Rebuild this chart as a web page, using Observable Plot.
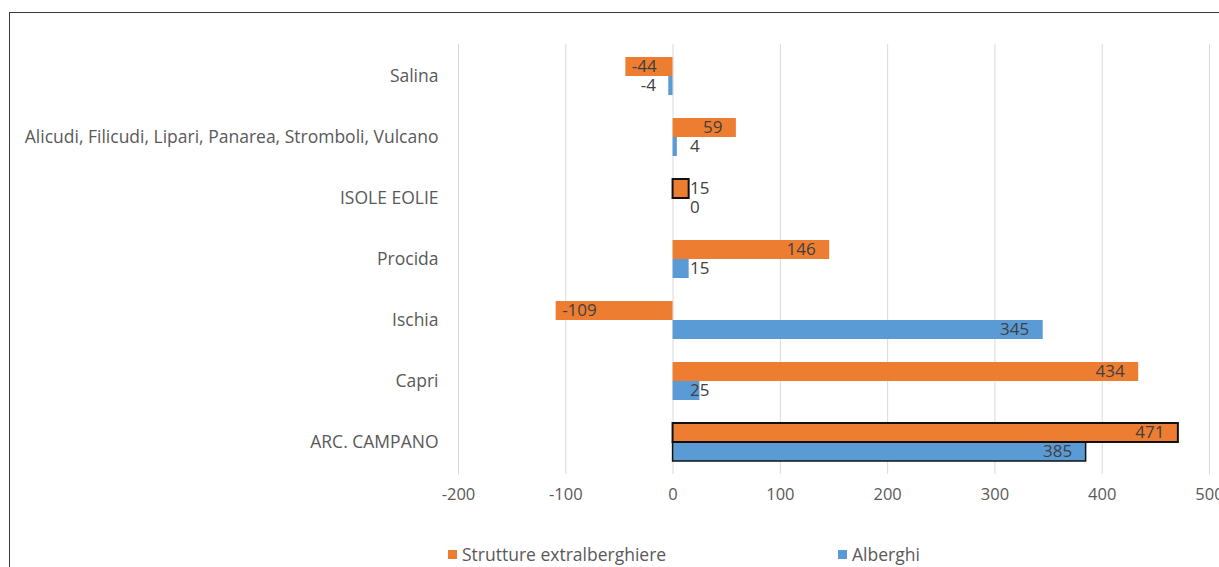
<!DOCTYPE html>
<html><head><meta charset="utf-8">
<script src="https://cdn.jsdelivr.net/npm/d3@7"></script>
<script src="https://cdn.jsdelivr.net/npm/@observablehq/plot@0.6"></script>
<style>
body{margin:0;background:#fff;font-family:"Open Sans", sans-serif;width:1219px;height:567px;overflow:hidden;position:relative}
#frame{position:absolute;left:9px;top:12px;width:1400px;height:700px;border:1.5px solid #3a3a3a;box-sizing:border-box;pointer-events:none}
#chart{position:absolute;left:0;top:0}
#legend{position:absolute;top:542px;left:0;width:1219px;height:22px;font-size:17.5px;color:#595959}
.item{position:absolute;top:0;display:flex;align-items:center;gap:5px;white-space:nowrap}
.sw{width:9px;height:9px;display:inline-block}
</style></head><body>
<div id="chart"></div><div id="legend"></div><div id="frame"></div>
<script>
const categories = ["Salina","Alicudi, Filicudi, Lipari, Panarea, Stromboli, Vulcano","ISOLE EOLIE","Procida","Ischia","Capri","ARC. CAMPANO"];
const extralberghiere = [-44, 59, 15, 146, -109, 434, 471];
const alberghi = [-4, 4, 0, 15, 345, 25, 385];
const xTicks = [-200, -100, 0, 100, 200, 300, 400, 500];
const seriesNames = ["Strutture extralberghiere", "Alberghi"];
const seriesColors = ["#ED7D31", "#5B9BD5"];
const outlinedCategories = ["ISOLE EOLIE", "ARC. CAMPANO"];

const rows = categories.flatMap((c, i) => [
  {cat: c, s: 0, v: extralberghiere[i]},
  {cat: c, s: 1, v: alberghi[i]}
]);
const rowsTop = rows.filter(d => d.s === 0), rowsBot = rows.filter(d => d.s === 1);
const bigPos = d => d.v >= 40, bigNeg = d => d.v <= -40, small = d => Math.abs(d.v) < 40;
const txt = {fill: "#404040", fontSize: 17};
const labelsFor = (data, dy) => [
  Plot.text(data.filter(bigPos), {x: "v", y: "cat", text: d => String(d.v), textAnchor: "end", dx: -14, dy, ...txt}),
  Plot.text(data.filter(bigNeg), {x: "v", y: "cat", text: d => String(d.v), textAnchor: "start", dx: 6, dy, ...txt}),
  Plot.text(data.filter(d => small(d) && d.v >= 0), {x: 0, y: "cat", text: d => String(d.v), textAnchor: "start", dx: 17, dy, ...txt}),
  Plot.text(data.filter(d => small(d) && d.v < 0), {x: 0, y: "cat", text: d => String(d.v), textAnchor: "end", dx: -17, dy, ...txt})
];

const chart = Plot.plot({
  width: 1219, height: 520,
  marginTop: 44, marginBottom: 46, marginLeft: 458, marginRight: 10,
  x: {domain: [-200, 500]},
  y: {domain: categories, paddingInner: 0.38, paddingOuter: 0.19},
  style: {fontFamily: "'Open Sans', sans-serif", fontSize: "17px", color: "#595959", background: "transparent"},
  marks: [
    Plot.gridX(xTicks, {stroke: "#d9d9d9", strokeOpacity: 1, strokeWidth: 1}),
    Plot.barX(rowsTop, {x: "v", y: "cat", fill: seriesColors[0], insetBottom: 19}),
    Plot.barX(rowsBot, {x: "v", y: "cat", fill: seriesColors[1], insetTop: 19}),
    Plot.barX(rowsTop.filter(d => outlinedCategories.includes(d.cat) && d.v !== 0), {x: "v", y: "cat", fill: "none", stroke: "#111", strokeWidth: 2, insetBottom: 19}),
    Plot.barX(rowsBot.filter(d => outlinedCategories.includes(d.cat) && d.v !== 0), {x: "v", y: "cat", fill: "none", stroke: "#111", strokeWidth: 1.5, insetTop: 19}),
    ...labelsFor(rowsTop, -9.5),
    ...labelsFor(rowsBot, 9.5),
    Plot.axisX(xTicks, {tickSize: 0, tickPadding: 14, label: null, fontSize: 16.5, tickFormat: d => String(d)}),
    Plot.axisY({tickSize: 0, tickPadding: 20, label: null, fontSize: 17.5})
  ]
});
document.getElementById("chart").append(chart);

const legend = document.getElementById("legend");
const legendX = [448, 838];
seriesNames.forEach((n, i) => {
  const it = document.createElement("div");
  it.className = "item";
  it.style.left = legendX[i] + "px";
  it.innerHTML = `<span class="sw" style="background:${seriesColors[i]}"></span><span>${n}</span>`;
  legend.append(it);
});
</script>
</body></html>
